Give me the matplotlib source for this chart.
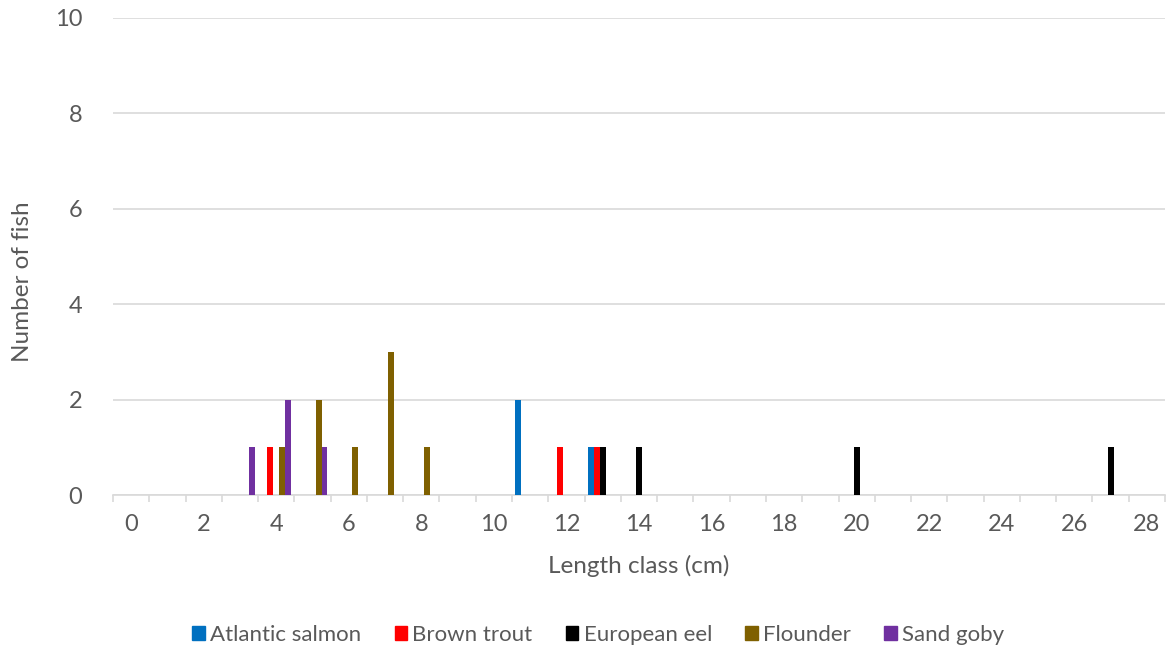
import numpy as np
import matplotlib.pyplot as plt
from matplotlib.patches import Patch

# length classes (cm), one category per cm
lengths = list(range(0, 29))

species = ['Atlantic salmon', 'Brown trout', 'European eel', 'Flounder', 'Sand goby']
colors = ['#0070C0', '#FF0000', '#000000', '#7F6000', '#7030A0']

# counts per length class
salmon = {11: 2, 13: 1}
trout = {4: 1, 12: 1, 13: 1}
eel = {13: 1, 14: 1, 20: 1, 27: 1}
flounder = {4: 1, 5: 2, 6: 1, 7: 3, 8: 1}
goby = {3: 1, 4: 2, 5: 1}

series = [salmon, trout, eel, flounder, goby]

plt.rcParams['font.family'] = ['Lato', 'DejaVu Sans']
txt = '#595959'
grid = '#D9D9D9'

fig = plt.figure(figsize=(11.71, 6.51), dpi=100)
ax = fig.add_axes([0.0965, 0.2396, 0.8984, 0.7328])

x = np.array(lengths)
bw = 0.165
for i, (s, c) in enumerate(zip(series, colors)):
    vals = [s.get(l, 0) for l in lengths]
    ax.bar(x + (i - 2) * bw, vals, width=bw, color=c, zorder=3)

ax.set_xlim(-0.5, 28.5)
ax.set_ylim(0, 10)
ax.set_yticks(range(0, 11, 2))
ax.yaxis.grid(True, color=grid, linewidth=1.2)
ax.set_axisbelow(True)

ax.set_xticks(range(0, 29, 2))
ax.set_xticks(np.arange(-0.5, 29, 1), minor=True)
ax.tick_params(axis='x', which='major', length=0, pad=14, labelsize=17, labelcolor=txt)
ax.tick_params(axis='x', which='minor', length=5, width=1.2, color=grid, direction='out')
ax.tick_params(axis='y', length=0, pad=22, labelsize=17, labelcolor=txt)

for sp in ['top', 'right', 'left']:
    ax.spines[sp].set_visible(False)
ax.spines['bottom'].set_color(grid)
ax.spines['bottom'].set_linewidth(1.2)

ax.set_xlabel('Length class (cm)', fontsize=17.5, color=txt, labelpad=14)
ax.set_ylabel('Number of fish', fontsize=17.5, color=txt, labelpad=16)
ax.yaxis.label.set_y(0.447)  # sits a little below centre in the original

handles = [Patch(color=c, label=n) for n, c in zip(species, colors)]
fig.legend(handles=handles, loc='center', bbox_to_anchor=(0.511, 0.025), ncol=5,
           frameon=False, fontsize=16, labelcolor=txt, handlelength=0.55,
           handleheight=0.55, handletextpad=0.25, columnspacing=1.5)

fig.savefig('out.png', dpi=100)
